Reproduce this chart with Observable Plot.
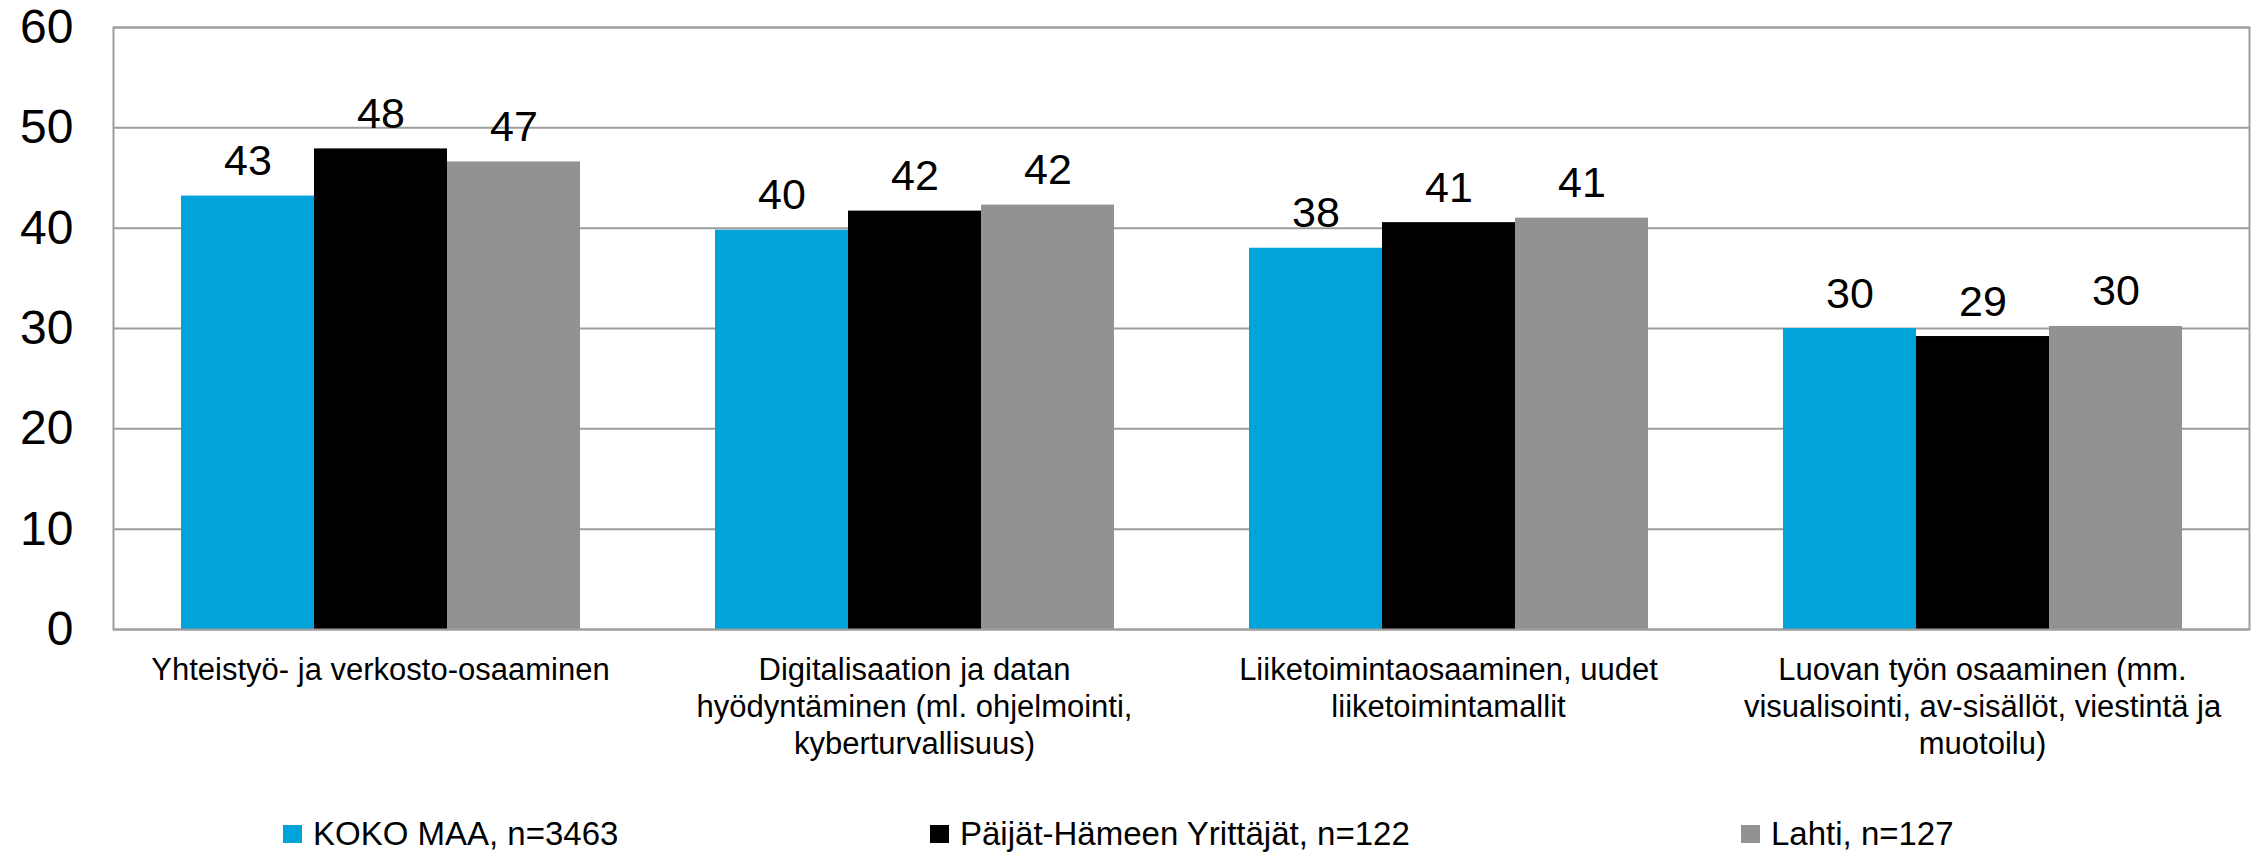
<!DOCTYPE html>
<html>
<head>
<meta charset="utf-8">
<script src="https://cdn.jsdelivr.net/npm/d3@7"></script>
<script src="https://cdn.jsdelivr.net/npm/@observablehq/plot@0.6"></script>
<style>
  html, body { margin: 0; padding: 0; background: #fff; }
  body { font-family: "Liberation Sans", Arial, sans-serif; }
  #wrap { position: relative; width: 2260px; height: 852px; overflow: hidden; }
  #legend { position: absolute; left: 0; top: 812px; width: 2260px; height: 44px; }
  .item { position: absolute; top: 0; height: 44px; display: flex; align-items: center; font-size: 33px; color: #000; white-space: nowrap; }
  .sw { width: 19px; height: 18px; margin-right: 11px; flex: none; }
</style>
</head>
<body>
<div id="wrap"><div id="chart"></div><div id="legend"></div></div>
<script>
// ---- data ----
const categories = [
  "Yhteistyö- ja verkosto-osaaminen",
  "Digitalisaation ja datan hyödyntäminen (ml. ohjelmointi, kyberturvallisuus)",
  "Liiketoimintaosaaminen, uudet liiketoimintamallit",
  "Luovan työn osaaminen (mm. visualisointi, av-sisällöt, viestintä ja muotoilu)"
];
const categoryLabels = [
  "Yhteistyö- ja verkosto-osaaminen",
  "Digitalisaation ja datan\nhyödyntäminen (ml. ohjelmointi,\nkyberturvallisuus)",
  "Liiketoimintaosaaminen, uudet\nliiketoimintamallit",
  "Luovan työn osaaminen (mm.\nvisualisointi, av-sisällöt, viestintä ja\nmuotoilu)"
];
const series = ["KOKO MAA, n=3463", "Päijät-Hämeen Yrittäjät, n=122", "Lahti, n=127"];
const kokoMaa = [43.2, 39.8, 38.0, 30.0];
const paijatHame = [47.9, 41.7, 40.55, 29.2];
const lahti = [46.6, 42.3, 41.0, 30.2];
const yTicks = [0, 10, 20, 30, 40, 50, 60];
const colors = ["#00A3DA", "#000000", "#929292"];

// ---- table ----
const seriesValues = [kokoMaa, paijatHame, lahti];
const data = [];
categories.forEach((c, i) => {
  series.forEach((s, j) => data.push({category: c, series: s, value: seriesValues[j][i]}));
});
const labelOf = new Map(categories.map((c, i) => [c, categoryLabels[i]]));

const font = '"Liberation Sans", Arial, sans-serif';
const gridColor = "#9e9e9e";

const chart = Plot.plot({
  width: 2260,
  height: 800,
  marginTop: 27,
  marginBottom: 171,
  marginLeft: 111,
  marginRight: 10,
  style: {fontFamily: font, color: "#000", background: "#fff"},
  fx: {domain: categories, padding: 0},
  x: {domain: series, paddingInner: 0, paddingOuter: 0.496, axis: null},
  y: {domain: [0, 60]},
  color: {domain: series, range: colors},
  marks: [
    Plot.ruleY(yTicks, {stroke: gridColor, strokeWidth: 2}),
    Plot.barY(data, {fx: "category", x: "series", y: "value", fill: "series"}),
    Plot.text(data, {
      fx: "category", x: "series", y: "value",
      text: d => String(Math.round(d.value)),
      lineAnchor: "bottom", dy: -21, fontSize: 43, fill: "#000"
    }),
    Plot.frame({facet: "super", stroke: gridColor, strokeWidth: 2}),
    Plot.axisY({ticks: yTicks, tickSize: 0, tickPadding: 40, fontSize: 48, label: null, tickFormat: d => String(d)}),
    Plot.axisFx({anchor: "bottom", tickSize: 0, tickPadding: 25, fontSize: 31, lineHeight: 1.18, label: null, tickFormat: d => labelOf.get(d), textOverflow: null, lineWidth: Infinity})
  ]
});
document.getElementById("chart").appendChild(chart);

// ---- legend ----
const legend = document.getElementById("legend");
const legendLeft = [283, 930, 1741];
series.forEach((s, j) => {
  const it = document.createElement("div");
  it.className = "item";
  it.style.left = legendLeft[j] + "px";
  const sw = document.createElement("span");
  sw.className = "sw";
  sw.style.background = colors[j];
  const tx = document.createElement("span");
  tx.textContent = s;
  it.appendChild(sw);
  it.appendChild(tx);
  legend.appendChild(it);
});
</script>
</body>
</html>
